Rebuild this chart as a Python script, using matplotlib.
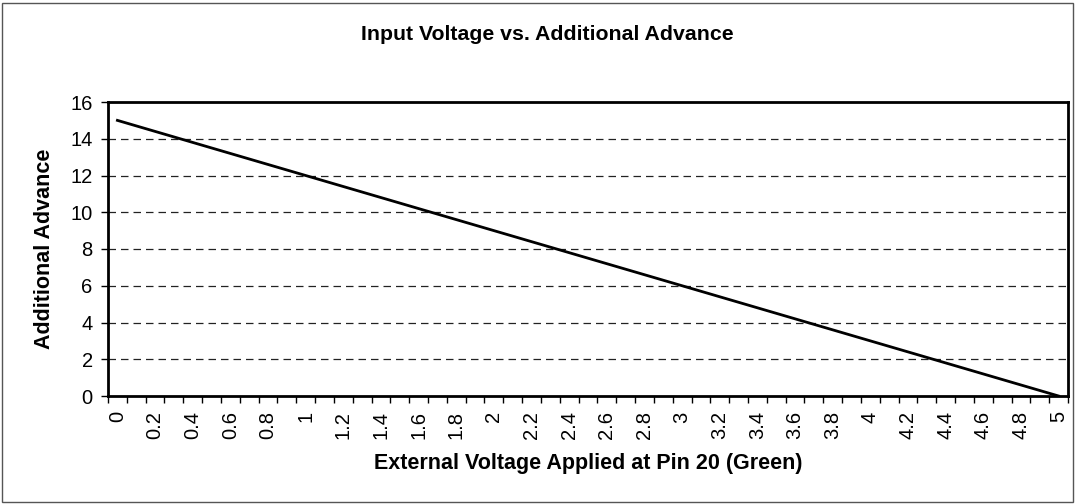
import matplotlib.pyplot as plt
from matplotlib.patches import Rectangle

plt.rcParams['font.family'] = ['Liberation Sans', 'DejaVu Sans']

# external voltage at pin 20 (categories, step 0.1)
voltage = [0.0, 0.1, 0.2, 0.3, 0.4, 0.5, 0.6, 0.7, 0.8, 0.9,
           1.0, 1.1, 1.2, 1.3, 1.4, 1.5, 1.6, 1.7, 1.8, 1.9,
           2.0, 2.1, 2.2, 2.3, 2.4, 2.5, 2.6, 2.7, 2.8, 2.9,
           3.0, 3.1, 3.2, 3.3, 3.4, 3.5, 3.6, 3.7, 3.8, 3.9,
           4.0, 4.1, 4.2, 4.3, 4.4, 4.5, 4.6, 4.7, 4.8, 4.9, 5.0]
advance = [15.0, 14.7, 14.4, 14.1, 13.8, 13.5, 13.2, 12.9, 12.6, 12.3,
           12.0, 11.7, 11.4, 11.1, 10.8, 10.5, 10.2, 9.9, 9.6, 9.3,
           9.0, 8.7, 8.4, 8.1, 7.8, 7.5, 7.2, 6.9, 6.6, 6.3,
           6.0, 5.7, 5.4, 5.1, 4.8, 4.5, 4.2, 3.9, 3.6, 3.3,
           3.0, 2.7, 2.4, 2.1, 1.8, 1.5, 1.2, 0.9, 0.6, 0.3, 0.0]
tick_labels = ['0', '0.2', '0.4', '0.6', '0.8', '1', '1.2', '1.4', '1.6', '1.8',
               '2', '2.2', '2.4', '2.6', '2.8', '3', '3.2', '3.4', '3.6', '3.8',
               '4', '4.2', '4.4', '4.6', '4.8', '5']

fig = plt.figure(figsize=(10.76, 5.04), dpi=100)
ax = fig.add_axes([108 / 1076, 1 - 396 / 504, 960 / 1076, 294 / 504])

pos = list(range(len(voltage)))
ax.plot(pos, advance, color='black', linewidth=2)

ax.set_xlim(-0.5, len(voltage) - 0.5)
ax.set_ylim(0, 16)
ax.set_yticks(range(0, 17, 2))
for y in range(2, 16, 2):
    ax.axhline(y, color='#222222', linewidth=0.9, linestyle=(0, (6, 4)), zorder=0)

# tick marks at category boundaries, labels at every 2nd category
ax.set_xticks([p - 0.5 for p in pos] + [len(voltage) - 0.5])
ax.set_xticklabels([])
ax.set_xticks(pos[::2], minor=True)
ax.set_xticklabels(tick_labels, minor=True, rotation=90, va='top', ha='center')
ax.tick_params(axis='x', which='minor', length=0, pad=11, labelsize=14.5)
ax.tick_params(axis='x', which='major', length=5, width=1)
ax.tick_params(axis='y', length=5, width=1, pad=6, labelsize=14.5)

for s in ax.spines.values():
    s.set_linewidth(2)

ax.set_xlabel('External Voltage Applied at Pin 20 (Green)', fontsize=15.5,
              fontweight='bold', va='center')
ax.xaxis.set_label_coords(0.5, (396 - 463) / 294)
ax.set_ylabel('Additional Advance', fontsize=15.5, fontweight='bold', va='center')
ax.yaxis.set_label_coords((45 - 108) / 960, 0.5)
fig.text(547 / 1076, 1 - 35 / 504, 'Input Voltage vs. Additional Advance',
         fontsize=15.3, fontweight='bold', ha='center', va='center')

fig.patches.append(Rectangle((2 / 1076, 2 / 504), 1071 / 1076, 499 / 504,
                             transform=fig.transFigure, fill=False,
                             edgecolor='#555555', linewidth=1))

fig.savefig('out.png', dpi=100)
